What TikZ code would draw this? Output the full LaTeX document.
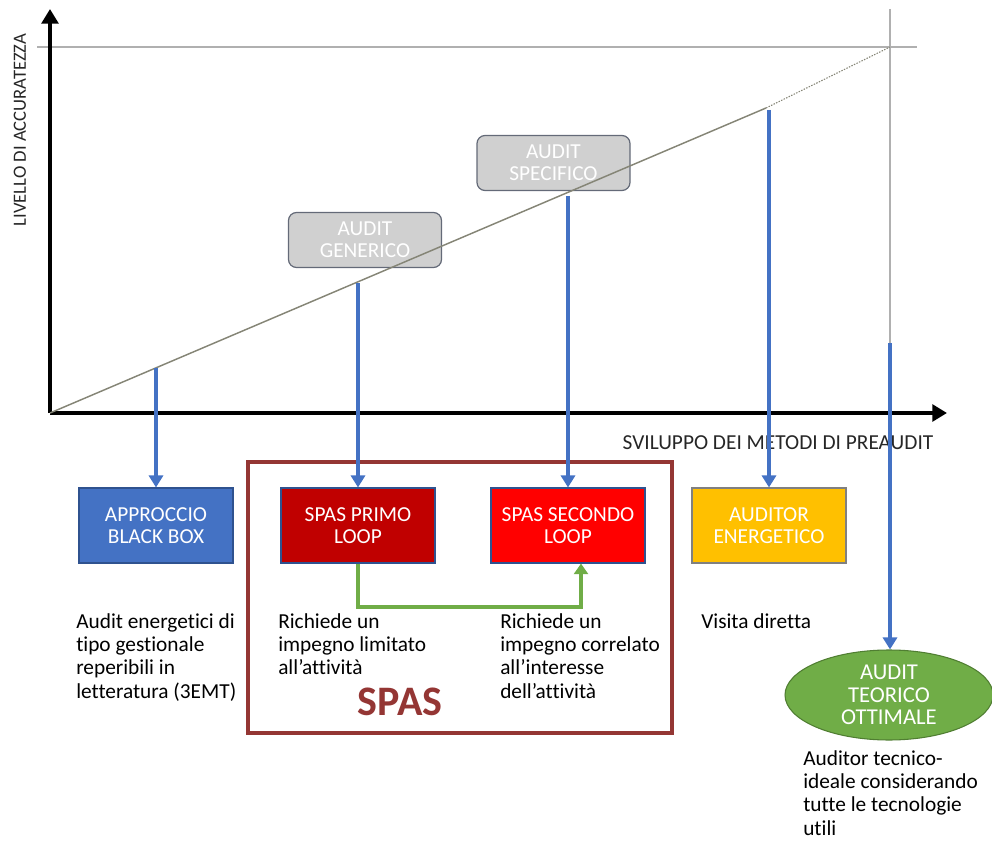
\documentclass[tikz,border=0pt]{standalone}
\usepackage{fontspec}
\setmainfont{Carlito}[Ligatures=NoCommon]
\usetikzlibrary{arrows.meta,shapes.geometric,calc}

\definecolor{ppblue}{HTML}{4472C4}
\definecolor{ppedge}{HTML}{2F528F}
\definecolor{ppdarkred}{HTML}{C00000}
\definecolor{ppred}{HTML}{FF0000}
\definecolor{pporange}{HTML}{FFC000}
\definecolor{ppgreen}{HTML}{70AD47}
\definecolor{ppgreenedge}{HTML}{507E32}
\definecolor{ppframe}{HTML}{943634}
\definecolor{ppgrey}{HTML}{D0D0D0}
\definecolor{ppgreyedge}{HTML}{646A78}
\definecolor{pptrend}{HTML}{858576}
\definecolor{ppguide}{HTML}{B0B0B0}

\tikzset{
  axis/.style={line width=3pt, -{Triangle[width=12.5pt,length=11pt]}},
  guide/.style={ppguide, line width=0.9pt},
  trend/.style={pptrend, line width=1.1pt},
  blueline/.style={ppblue, line width=3pt, -{Triangle[width=10.5pt,length=9pt]}},
  greenline/.style={ppgreen, line width=3pt, -{Triangle[width=10.5pt,length=8pt]}},
  stagebox/.style={draw=ppedge, line width=0.8pt, minimum width=115.5pt, minimum height=56.25pt,
    inner sep=0pt, text=white, align=center, font=\fontsize{16}{16.5}\selectfont},
  auditbox/.style={draw=ppgreyedge, fill=ppgrey, rounded corners=6pt, line width=0.9pt,
    minimum width=114.75pt, minimum height=41.25pt, inner sep=0pt, text=white, align=center,
    font=\fontsize{16}{16.5}\selectfont},
  note/.style={anchor=north west, inner sep=0pt, align=left, font=\fontsize{16}{17.5}\selectfont},
  axislabel/.style={font=\fontsize{14}{16}\selectfont, text=black!85}
}

\begin{document}
\begin{tikzpicture}[x=0.75pt,y=-0.75pt]
\useasboundingbox (0,0) rectangle (992,841);

% guides of the ideal audit
\coordinate (gl) at (37,47);
\coordinate (gr) at (917,47);
\coordinate (gt) at (890,9);
\coordinate (gb) at (890,413);
\draw [guide] (gl) -- (gr);
\draw [guide] (gt) -- (gb);

% axes
\coordinate (o) at (50,413);
\coordinate (ytip) at (50,9);
\coordinate (xtip) at (947,413);
\draw [axis] (o) -- (ytip);
\draw [axis] (o) -- (xtip);
\node [axislabel, rotate=90] (ylab) at (20,130) {LIVELLO DI ACCURATEZZA};
\node [axislabel, font=\fontsize{16}{18}\selectfont] (xlab) at (778,443) {SVILUPPO DEI METODI DI PREAUDIT};

% audit levels
\node [auditbox] (generico) at (365,240) {AUDIT\\GENERICO};
\node [auditbox] (specifico) at (553.5,163) {AUDIT\\SPECIFICO};

% trend line
\coordinate (tend) at (766,108);
\draw [trend] (o) -- (tend);
\draw [trend, densely dotted, line width=0.8pt] (tend) -- (gr -| gt);

% SPAS frame
\node [draw=ppframe, line width=3pt, minimum width=318pt, minimum height=203.25pt, inner sep=0pt] (spas) at (460,597.5) {};
\node [text=ppframe, font=\bfseries\fontsize{31.5}{34}\selectfont] (spaslab) at (400,702) {SPAS};

% methods
\node [stagebox, fill=ppblue] (blackbox) at (156,525.5) {APPROCCIO\\BLACK BOX};
\node [stagebox, fill=ppdarkred] (primo) at (358,525.5) {SPAS PRIMO\\LOOP};
\node [stagebox, fill=ppred] (secondo) at (568,525.5) {SPAS SECONDO\\LOOP};
\node [stagebox, fill=pporange, draw=black!50] (auditor) at (769,525.5) {AUDITOR\\ENERGETICO};
\node [ellipse, draw=ppgreenedge, fill=ppgreen, line width=0.8pt, minimum width=156pt, minimum height=67.5pt,
  inner sep=0pt, text=white, align=center, font=\fontsize{17}{17}\selectfont] (teorico) at (889,695) {AUDIT\\TEORICO\\OTTIMALE};

% points on the trend
\coordinate (p1) at (156,368);
\coordinate (p2) at (358,283);
\coordinate (p3) at (568,196);
\coordinate (p4) at (769,110);
\coordinate (p5) at (890,343);
\draw [blueline] (p1) -- (blackbox.north);
\draw [blueline] (p2) -- (primo.north);
\draw [blueline] (p3) -- (secondo.north);
\draw [blueline] (p4) -- (auditor.north);
\draw [blueline] (p5) -- (p5 |- teorico.north);

\draw [greenline] (primo.south) -- ++(0,43) -| ($(secondo.south)+(13,0)$);

% notes
\node [note] (n1) at (76,613) {Audit energetici di\\tipo gestionale\\reperibili in\\letteratura (3EMT)};
\node [note] (n2) at (278,613) {Richiede un\\impegno limitato\\all’attività};
\node [note] (n3) at (500,613) {Richiede un\\impegno correlato\\all’interesse\\dell’attività};
\node [note] (n4) at (701,613) {Visita diretta};
\node [note] (n5) at (803,750) {Auditor tecnico-\\ideale considerando\\tutte le tecnologie\\utili};
\end{tikzpicture}
\end{document}
